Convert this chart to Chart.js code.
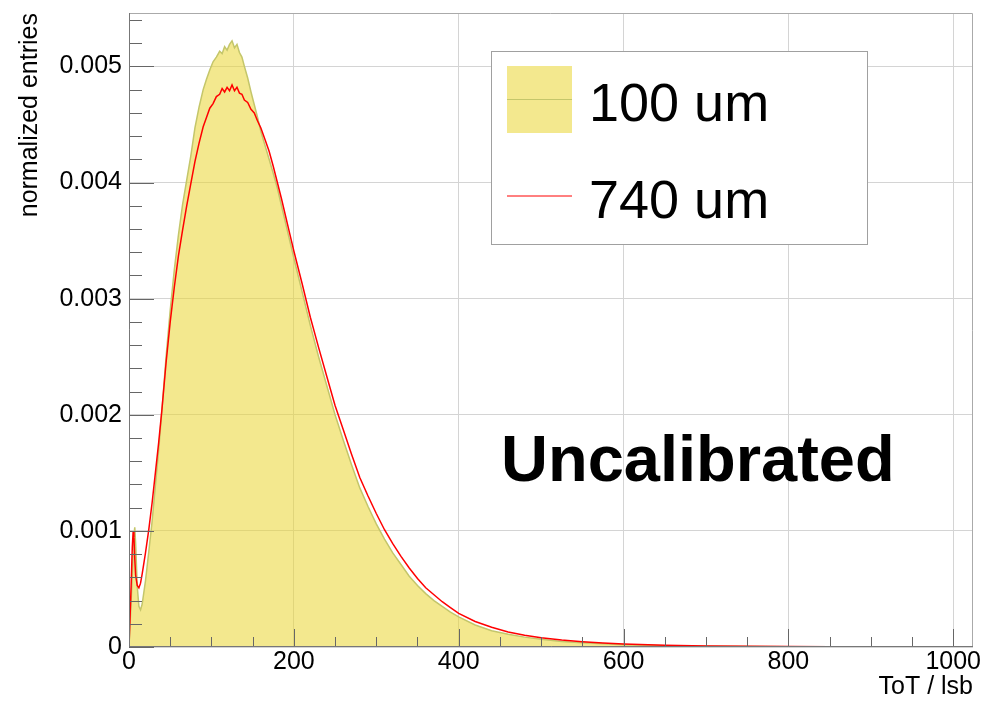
<!DOCTYPE html>
<html>
<head>
  <title>ToT distribution</title>
  <meta charset="utf-8">
  <style>
    body { margin: 0; background: #fff; }
  </style>
</head>
<body>
  <canvas id="myChart" width="984" height="704"></canvas>
  <script src="https://cdn.jsdelivr.net/npm/chart.js"></script>
  <script>
    var tot = [0, 2, 4, 5, 6, 7, 8, 10, 12, 14, 16, 20, 24, 28, 32, 36, 40, 45, 50, 55,
      60, 65, 70, 75, 80, 85, 90, 94, 98, 102, 106, 110, 113, 116, 119, 122, 125, 128, 131, 134,
      137, 140, 144, 148, 152, 156, 160, 165, 170, 175, 180, 185, 190, 195, 200, 210, 220, 230, 240, 250,
      260, 270, 280, 290, 300, 310, 320, 330, 340, 350, 360, 370, 380, 390, 400, 420, 440, 460, 480, 500,
      525, 550, 575, 600, 650, 700, 750, 800, 850, 900, 950, 1000, 1024];

    // 100 um sensor (filled)
    var entries100 = [0, 0.00030, 0.00062, 0.00080, 0.00096, 0.00103, 0.00090, 0.00052, 0.00035, 0.00032,
      0.00037, 0.00057, 0.00082, 0.00108, 0.00139, 0.00170, 0.00204, 0.00250, 0.00290, 0.00325,
      0.00355, 0.00381, 0.00402, 0.00423, 0.00447, 0.00465, 0.00480, 0.00489, 0.00497, 0.00504,
      0.00508, 0.00513, 0.00511, 0.00517, 0.00514, 0.00519, 0.00522, 0.00516, 0.00519, 0.00512,
      0.00508, 0.00500, 0.00490, 0.00478, 0.00467, 0.00456, 0.00444, 0.00432, 0.00420, 0.00408,
      0.00395, 0.00380, 0.00365, 0.00350, 0.00335, 0.00306, 0.00277, 0.00250, 0.00225, 0.00200,
      0.00178, 0.00157, 0.00137, 0.00121, 0.00106, 0.00093, 0.00081, 0.00071, 0.00061, 0.00053,
      0.00046, 0.00040, 0.00035, 0.00030, 0.00026, 0.00019, 0.00014, 0.00011, 0.000085, 0.000066,
      0.000048, 0.000036, 0.000027, 0.000020, 0.000011, 0.000006, 0.000004, 0.000002, 0.0000015, 0.000001,
      0.000001, 0.000001, 0];

    // 740 um sensor (line)
    var entries740 = [0, 0.00040, 0.00086, 0.00099, 0.00094, 0.00076, 0.00062, 0.00053, 0.00051, 0.00055,
      0.00063, 0.00081, 0.00101, 0.00124, 0.00150, 0.00176, 0.00205, 0.00245, 0.00280, 0.00310,
      0.00337, 0.00359, 0.00380, 0.00399, 0.00418, 0.00434, 0.00448, 0.00456, 0.00464, 0.00468,
      0.00474, 0.00476, 0.00481, 0.00478, 0.00482, 0.00479, 0.00484, 0.00479, 0.00482, 0.00477,
      0.00476, 0.00471, 0.00469, 0.00463, 0.00460, 0.00453, 0.00447, 0.00437, 0.00427, 0.00414,
      0.00400, 0.00386, 0.00371, 0.00356, 0.00341, 0.00313, 0.00284, 0.00258, 0.00233, 0.00208,
      0.00187, 0.00166, 0.00146, 0.00130, 0.00115, 0.00101, 0.00089, 0.00078, 0.00068, 0.00059,
      0.00051, 0.00045, 0.00039, 0.00034, 0.00029, 0.00022, 0.00017, 0.00013, 0.000101, 0.000080,
      0.000060, 0.000046, 0.000035, 0.000026, 0.000015, 0.000009, 0.000006, 0.000004, 0.000003, 0.000002,
      0.0000015, 0.000001, 0.000001];

    var seriesNames = ['100 um', '740 um'];
    var xTitle = 'ToT / lsb';
    var yTitle = 'normalized entries';
    var note = 'Uncalibrated';

    var FONT = '"Liberation Sans", Arial, Helvetica, sans-serif';

    function onStep(v, step) {
      var r = v / step;
      return Math.abs(r - Math.round(r)) < 1e-6;
    }
    function pts(ys) {
      return tot.map(function(x, i) { return {x: x, y: ys[i]}; });
    }

    // ROOT style inner tick marks + frame
    var frameTicks = {
      id: 'frameTicks',
      afterDatasetsDraw: function(chart) {
        var ctx = chart.ctx, a = chart.chartArea;
        var xs = chart.scales.x, ys = chart.scales.y;
        ctx.save();
        ctx.strokeStyle = '#666';
        ctx.lineWidth = 1;
        ctx.beginPath();
        ys.ticks.forEach(function(t) {
          var py = Math.round(ys.getPixelForValue(t.value)) + 0.5;
          var len = onStep(t.value, 0.001) ? 25 : 13;
          ctx.moveTo(a.left, py); ctx.lineTo(a.left + len, py);
        });
        xs.ticks.forEach(function(t) {
          var px = Math.round(xs.getPixelForValue(t.value)) + 0.5;
          var len = onStep(t.value, 200) ? 18 : 10;
          ctx.moveTo(px, a.bottom); ctx.lineTo(px, a.bottom - len);
        });
        ctx.stroke();
        ctx.strokeStyle = '#aaa';
        ctx.beginPath();
        ctx.moveTo(a.left, a.top + 0.5); ctx.lineTo(a.right - 0.5, a.top + 0.5);
        ctx.lineTo(a.right - 0.5, a.bottom);
        ctx.stroke();
        ctx.strokeStyle = '#777';
        ctx.beginPath();
        ctx.moveTo(a.left + 0.5, a.top); ctx.lineTo(a.left + 0.5, a.bottom - 0.5);
        ctx.lineTo(a.right, a.bottom - 0.5);
        ctx.stroke();
        ctx.restore();
      },
      afterDraw: function(chart) {
        var ctx = chart.ctx;
        var ds = chart.data.datasets;
        ctx.save();
        // legend box
        ctx.fillStyle = '#fff';
        ctx.fillRect(492, 51, 376, 193);
        ctx.strokeStyle = '#a0a0a0';
        ctx.lineWidth = 1;
        ctx.strokeRect(491.5, 51.5, 376, 193);
        ctx.fillStyle = ds[0].backgroundColor;
        ctx.fillRect(507, 66, 65, 67);
        ctx.strokeStyle = ds[0].borderColor;
        ctx.beginPath(); ctx.moveTo(507, 99.5); ctx.lineTo(572, 99.5); ctx.stroke();
        ctx.strokeStyle = ds[1].borderColor;
        ctx.beginPath(); ctx.moveTo(507, 196); ctx.lineTo(572, 196); ctx.stroke();
        ctx.fillStyle = '#000';
        ctx.font = '54px ' + FONT;
        ctx.textBaseline = 'alphabetic';
        ctx.fillText(ds[0].label, 589, 121);
        ctx.fillText(ds[1].label, 589, 218);
        // annotation
        ctx.font = 'bold 65px ' + FONT;
        ctx.fillText(note, 501, 481);
        ctx.restore();
      }
    };

    var chart = new Chart(document.getElementById('myChart'), {
      type: 'line',
      data: {
        datasets: [{
          label: seriesNames[0],
          data: pts(entries100),
          fill: 'origin',
          backgroundColor: 'rgba(234, 214, 50, 0.55)',
          borderColor: '#c4c66a',
          borderWidth: 1.5,
          pointRadius: 0,
          tension: 0,
          order: 1
        }, {
          label: seriesNames[1],
          data: pts(entries740),
          fill: false,
          borderColor: '#ff0000',
          borderWidth: 1.5,
          pointRadius: 0,
          tension: 0,
          order: 0
        }]
      },
      options: {
        responsive: false,
        animation: false,
        layout: { padding: { top: 13, right: 11, left: 0, bottom: 0 } },
        plugins: { legend: { display: false }, tooltip: { enabled: false } },
        scales: {
          x: {
            type: 'linear',
            min: 0,
            max: 1024,
            afterFit: function(s) { s.height = 57; s.paddingLeft = 0; s.paddingRight = 0; },
            border: { display: false },
            grid: {
              drawTicks: false,
              lineWidth: 1,
              color: function(c) { return c.tick && onStep(c.tick.value, 200) ? '#d4d4d4' : 'rgba(0,0,0,0)'; }
            },
            ticks: {
              stepSize: 50,
              includeBounds: false,
              autoSkip: false,
              maxRotation: 0,
              padding: 0,
              color: '#000',
              font: { family: FONT, size: 25 },
              callback: function(v) { return onStep(v, 200) ? String(Math.round(v)) : ''; }
            },
            title: {
              display: true,
              text: xTitle,
              align: 'end',
              color: '#000',
              font: { family: FONT, size: 25 },
              padding: { top: 0, bottom: 2 }
            }
          },
          y: {
            min: 0,
            max: 0.00546,
            afterFit: function(s) { s.width = 129; s.paddingTop = 0; s.paddingBottom = 0; },
            border: { display: false },
            grid: {
              drawTicks: false,
              lineWidth: 1,
              color: function(c) { return c.tick && onStep(c.tick.value, 0.001) ? '#d4d4d4' : 'rgba(0,0,0,0)'; }
            },
            ticks: {
              stepSize: 0.0002,
              includeBounds: false,
              autoSkip: false,
              padding: 7,
              color: '#000',
              font: { family: FONT, size: 25 },
              callback: function(v) {
                if (!onStep(v, 0.001)) return '';
                return Math.abs(v) < 1e-9 ? '0' : v.toFixed(3);
              }
            },
            title: {
              display: true,
              text: yTitle,
              align: 'end',
              color: '#000',
              font: { family: FONT, size: 25 },
              padding: { top: 15, bottom: 0 }
            }
          }
        }
      },
      plugins: [frameTicks]
    });
  </script>
</body>
</html>
